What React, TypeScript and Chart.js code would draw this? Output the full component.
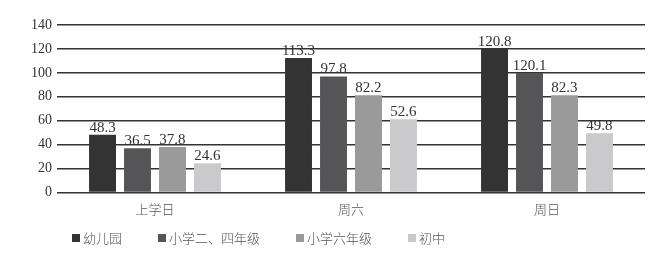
import React, { useEffect, useRef } from "react";
import { Chart, registerables } from "chart.js";

Chart.register(...registerables);

const categories = ["上学日", "周六", "周日"];
const seriesNames = ["幼儿园", "小学二、四年级", "小学六年级", "初中"];
// bar heights as drawn in the picture
const kindergarten = [48.3, 112.5, 120.2];
const primary24 = [37.0, 97.0, 99.8];
const primary6 = [38.0, 81.3, 81.3];
const juniorHigh = [24.3, 61.2, 49.5];
// value labels as printed above the bars
const kindergartenLabels = ["48.3", "113.3", "120.8"];
const primary24Labels = ["36.5", "97.8", "120.1"];
const primary6Labels = ["37.8", "82.2", "82.3"];
const juniorHighLabels = ["24.6", "52.6", "49.8"];
const yTicks = [0, 20, 40, 60, 80, 100, 120, 140];

const colors = ["#333333", "#555557", "#9a9a9a", "#cacacc"];
const seriesValues = [kindergarten, primary24, primary6, juniorHigh];
const seriesLabels = [kindergartenLabels, primary24Labels, primary6Labels, juniorHighLabels];

const SERIF = '"Liberation Serif", "DejaVu Serif", serif';
const CJK = '"Noto Sans CJK SC", sans-serif';

const valueLabelPlugin = {
  id: "valueLabels",
  afterDatasetsDraw(chart: any) {
    const ctx = chart.ctx;
    ctx.save();
    ctx.font = `15px ${SERIF}`;
    ctx.fillStyle = "#333";
    ctx.textAlign = "center";
    ctx.textBaseline = "alphabetic";
    chart.data.datasets.forEach((ds: any, di: number) => {
      const meta = chart.getDatasetMeta(di);
      meta.data.forEach((bar: any, i: number) => {
        ctx.fillText(seriesLabels[di][i], bar.x, bar.y - 3);
      });
    });
    ctx.restore();
  },
};

const legendPlugin = {
  id: "customLegend",
  afterDraw(chart: any) {
    const ctx = chart.ctx;
    ctx.save();
    ctx.font = `300 13px ${CJK}`;
    ctx.textBaseline = "middle";
    ctx.textAlign = "left";
    let x = 64;
    const y = 230;
    chart.data.datasets.forEach((ds: any) => {
      ctx.fillStyle = ds.backgroundColor;
      ctx.fillRect(x, y - 4, 8, 8);
      ctx.fillStyle = "#555";
      ctx.fillText(ds.label, x + 11, y);
      x += 11 + ctx.measureText(ds.label).width + 36;
    });
    ctx.restore();
  },
};

export default function App() {
  const ref = useRef<HTMLCanvasElement>(null);
  useEffect(() => {
    if (!ref.current) return;
    const chart = new Chart(ref.current, {
      type: "bar",
      data: {
        labels: categories,
        datasets: seriesNames.map((name, i) => ({
          label: name,
          data: seriesValues[i],
          backgroundColor: colors[i],
          borderWidth: 0,
          categoryPercentage: 0.714,
          barPercentage: 0.77,
        })),
      },
      options: {
        responsive: false,
        animation: false,
        layout: { padding: { top: 17, right: 18, bottom: 25, left: 0 } },
        plugins: {
          legend: { display: false },
          tooltip: { enabled: false },
        },
        scales: {
          x: {
            grid: { display: false, drawTicks: false },
            border: { display: false },
            ticks: {
              font: { family: CJK, size: 13, weight: "300" },
              color: "#555",
              padding: 9,
            },
          },
          y: {
            min: 0,
            max: 140,
            afterBuildTicks(scale: any) {
              scale.ticks = yTicks.map((v) => ({ value: v }));
            },
            afterFit(scale: any) {
              scale.width = 49;
            },
            grid: { color: "#333", lineWidth: 1.5, drawTicks: false },
            border: { display: false },
            ticks: {
              font: { family: SERIF, size: 14 },
              color: "#333",
              padding: 5,
            },
          },
        },
      },
      plugins: [valueLabelPlugin, legendPlugin],
    });
    return () => chart.destroy();
  }, []);
  return <canvas ref={ref} width={655} height={243} style={{ display: "block" }} />;
}
